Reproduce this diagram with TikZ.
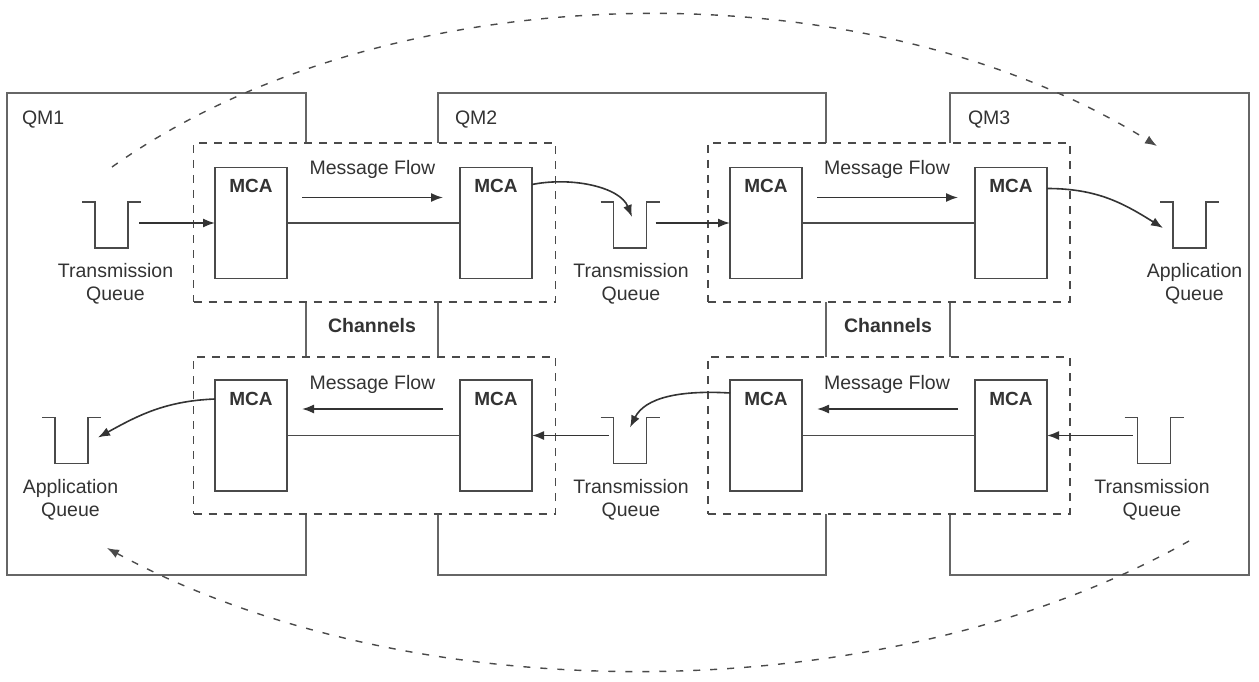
\documentclass[tikz,border=0pt]{standalone}
\usepackage{fontspec}
\setmainfont{Liberation Sans}
\usetikzlibrary{arrows.meta,calc}
\definecolor{ink}{HTML}{333333}
\definecolor{frame}{HTML}{666666}
\definecolor{edge}{HTML}{4A4A4A}
\newcommand\drawqueue[1]{%
  \draw[qline] ([xshift=-13pt]#1.north west) -- (#1.north west) -- (#1.south west)
    -- (#1.south east) -- (#1.north east) -- ([xshift=13pt]#1.north east);}
\begin{document}
\begin{tikzpicture}[x=1pt,y=-1pt,
  every node/.style={font=\fontsize{19.5}{23}\selectfont, text=ink, inner sep=0pt, outer sep=0pt},
  qmbox/.style={draw=frame, line width=2pt, rectangle},
  chbox/.style={draw=edge, line width=1.5pt, dash pattern=on 8pt off 7pt, fill=white,
    rectangle, minimum width=362pt},
  mca/.style={draw=edge, line width=1.8pt, fill=white, rectangle,
    minimum width=72pt, minimum height=111pt,
    label={[anchor=north, yshift=-12pt, font=\bfseries\fontsize{19}{23}\selectfont]north:MCA}},
  queue/.style={rectangle, minimum width=33pt, minimum height=46pt},
  qline/.style={draw=edge, line width=1.8pt},
  qtext/.style={align=center, anchor=north},
  wire/.style={draw=edge, line width=1.8pt},
  arr/.style={draw=ink, line width=1.6pt, -{Latex[length=12pt,width=9pt]}},
  arcline/.style={draw=edge, line width=1.4pt, dash pattern=on 7pt off 10pt,
    -{Latex[length=12pt,width=9pt]}},
  chanlbl/.style={font=\bfseries\fontsize{19.5}{23}\selectfont}
]
\useasboundingbox (0,0) rectangle (1259,682);

% queue managers
\node[qmbox, minimum width=299pt, minimum height=482pt] (qm1) at (156.5,334) {};
\node[qmbox, minimum width=388pt, minimum height=482pt] (qm2) at (632,334) {};
\node[qmbox, minimum width=299pt, minimum height=482pt] (qm3) at (1099.5,334) {};
\node[anchor=base west] (qm1lbl) at ($(qm1.north west)+(15,32)$) {QM1};
\node[anchor=base west] (qm2lbl) at ($(qm2.north west)+(17,32)$) {QM2};
\node[anchor=base west] (qm3lbl) at ($(qm3.north west)+(18,32)$) {QM3};

% channel groups
\node[chbox, minimum height=159pt] (chUL) at (374.5,222.5) {};
\node[chbox, minimum height=159pt] (chUR) at (889,222.5) {};
\node[chbox, minimum height=157pt] (chLL) at (374.5,435.5) {};
\node[chbox, minimum height=157pt] (chLR) at (889,435.5) {};
\node[chanlbl] (chan1) at (372,326) {Channels};
\node[chanlbl] (chan2) at (888,326) {Channels};

% message channel agents
\node[mca] (mcaUL) at (251,223) {};
\node[mca] (mcaUR) at (496,223) {};
\node[mca] (mca2L) at (766,223) {};
\node[mca] (mca2R) at (1011,223) {};
\node[mca] (mcaLL) at (251,435.5) {};
\node[mca] (mcaLR) at (496,435.5) {};
\node[mca] (mca3L) at (766,435.5) {};
\node[mca] (mca3R) at (1011,435.5) {};

% message flow captions
\node[anchor=base] (flow1) at ($(chUL.north)+(-2,32)$) {Message Flow};
\node[anchor=base] (flow2) at ($(chUR.north)+(-2,32)$) {Message Flow};
\node[anchor=base] (flow3) at ($(chLL.north)+(-2,32)$) {Message Flow};
\node[anchor=base] (flow4) at ($(chLR.north)+(-2,32)$) {Message Flow};

% queues
\node[queue] (q1) at (111.5,225) {};
\node[queue] (q2) at (630,225) {};
\node[queue] (q3) at (1189.5,225) {};
\node[queue] (q4) at (71.5,440.5) {};
\node[queue] (q5) at (630,440.5) {};
\node[queue] (q6) at (1154,440.5) {};
\drawqueue{q1}
\drawqueue{q2}
\drawqueue{q3}
\drawqueue{q4}
\drawqueue{q5}
\drawqueue{q6}
\node[qtext] (t1) at ([xshift=4pt,yshift=-15pt]q1.south) {Transmission\\Queue};
\node[qtext] (t2) at ([xshift=1pt,yshift=-15pt]q2.south) {Transmission\\Queue};
\node[qtext] (t3) at ([xshift=5pt,yshift=-15pt]q3.south) {Application\\Queue};
\node[qtext] (t4) at ([xshift=-1pt,yshift=-16pt]q4.south) {Application\\Queue};
\node[qtext] (t5) at ([xshift=1pt,yshift=-16pt]q5.south) {Transmission\\Queue};
\node[qtext] (t6) at ([xshift=-2pt,yshift=-16pt]q6.south) {Transmission\\Queue};

% upper channel: QM1 -> QM2 -> QM3
\draw[arr] ([xshift=11pt]q1.east |- mcaUL.west) -- (mcaUL.west);
\draw[wire] (mcaUL.east) -- (mcaUR.west);
\draw[arr] ($(mcaUL.north east)+(15,30)$) -- ($(mcaUR.north west)+(-17,30)$);
\draw[arr] ([yshift=-17pt]mcaUR.north east) .. controls +(40,-8) and +(-12,-30) .. ([xshift=2pt,yshift=8pt]q2.center);
\draw[arr] ([xshift=9pt]q2.east |- mca2L.west) -- (mca2L.west);
\draw[wire] (mca2L.east) -- (mca2R.west);
\draw[arr] ($(mca2L.north east)+(15,30)$) -- ($(mca2R.north west)+(-17,30)$);
\draw[arr] ([yshift=-21pt]mca2R.north east) .. controls +(50,0) and +(-40,-25) .. ([xshift=-10pt,yshift=-3pt]q3.west);

% lower channel: QM3 -> QM2 -> QM1
\draw[arr] ([xshift=-5pt]q6.west |- mca3R.east) -- (mca3R.east);
\draw[wire] (mca3L.east) -- (mca3R.west);
\draw[arr] ($(mca3R.north west)+(-17,29)$) -- ($(mca3L.north east)+(15,29)$);
\draw[arr] ([yshift=-13pt]mca3L.north west) .. controls +(-50,-3) and +(15,-30) .. ([yshift=13pt]q5.center);
\draw[arr] ([xshift=-5pt]q5.west |- mcaLR.east) -- (mcaLR.east);
\draw[wire] (mcaLL.east) -- (mcaLR.west);
\draw[arr] ($(mcaLR.north west)+(-17,29)$) -- ($(mcaLL.north east)+(15,29)$);
\draw[arr] ([yshift=-19pt]mcaLL.north west) .. controls +(-50,2) and +(40,-22) .. ([xshift=10pt,yshift=3pt]q4.east);

% end-to-end paths
\coordinate (arcTopS) at (112,167);
\coordinate (arcTopE) at (1157,146);
\coordinate (arcBotS) at (1189,541);
\coordinate (arcBotE) at (107,548);
\draw[arcline] (arcTopS) .. controls (390,-30) and (865,-36) .. (arcTopE);
\draw[arcline] (arcBotS) .. controls (885,712) and (414,714) .. (arcBotE);
\end{tikzpicture}
\end{document}
